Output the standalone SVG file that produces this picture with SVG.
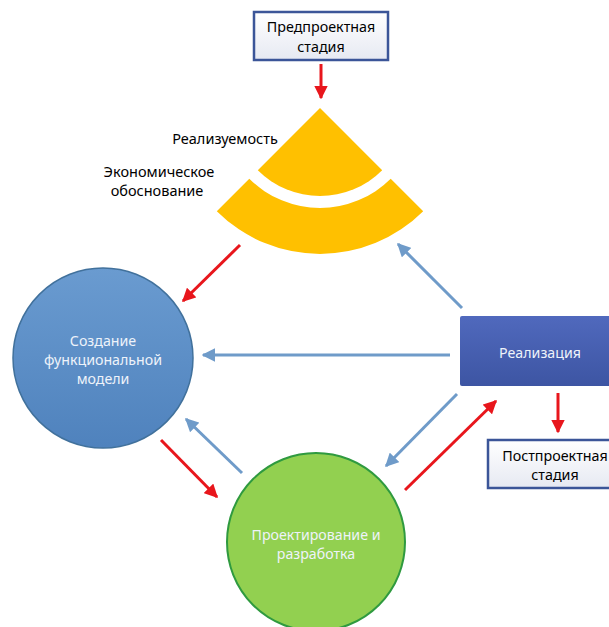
<svg xmlns="http://www.w3.org/2000/svg" width="609" height="627" viewBox="0 0 609 627">
<defs>
<style>
text{font-family:"Noto Sans","Open Sans",sans-serif;text-anchor:middle;dominant-baseline:central}
.lbl{font-size:14.3px;fill:#000}
.side{font-size:14.5px;fill:#000}
.box{fill:url(#gBox);stroke:#3b5598;stroke-width:2.5}
.wt{font-size:14.2px;fill:#eef3fa}
.red{stroke:#e8161c;stroke-width:3;fill:none;marker-end:url(#mRed)}
.blu{stroke:#6f9bc9;stroke-width:3;fill:none;marker-end:url(#mBlue)}
</style>
<linearGradient id="gBox" x1="0" y1="0" x2="0" y2="1"><stop offset="0" stop-color="#ffffff"/><stop offset="1" stop-color="#e6e9f2"/></linearGradient>
<linearGradient id="gBlue" x1="0" y1="0" x2="0" y2="1"><stop offset="0" stop-color="#6a9bd0"/><stop offset="1" stop-color="#4f82bd"/></linearGradient>
<linearGradient id="gReal" x1="0" y1="0" x2="0" y2="1"><stop offset="0" stop-color="#5069bd"/><stop offset="1" stop-color="#3d55a3"/></linearGradient>
<marker id="mRed" viewBox="0 0 10 10" refX="9" refY="5" markerWidth="4.5" markerHeight="4.5" orient="auto" markerUnits="strokeWidth"><path d="M0,0 L10,5 L0,10 Z" fill="#e8161c"/></marker>
<marker id="mBlue" viewBox="0 0 10 10" refX="9" refY="5" markerWidth="4.5" markerHeight="4.5" orient="auto" markerUnits="strokeWidth"><path d="M0,0 L10,5 L0,10 Z" fill="#6f9bc9"/></marker>
</defs>
<rect width="609" height="627" fill="#ffffff"/>
<g id="connectors">
<line class="red" x1="321" y1="64" x2="321" y2="98"/>
<line class="red" x1="240" y1="245" x2="183" y2="301"/>
<line class="blu" x1="462" y1="308" x2="398" y2="244"/>
<line class="blu" x1="450" y1="355" x2="203" y2="355"/>
<line class="blu" x1="457" y1="394" x2="386" y2="466"/>
<line class="blu" x1="242" y1="473" x2="186" y2="419"/>
<line class="red" x1="161" y1="440" x2="217" y2="497"/>
<line class="red" x1="405" y1="490" x2="496" y2="401"/>
<line class="red" x1="558" y1="393" x2="558" y2="432"/>
</g>
<g id="pre">
<rect class="box" x="254" y="12" width="134" height="48"/>
<text class="lbl" x="321" y="26">Предпроектная</text>
<text class="lbl" x="321" y="46">стадия</text>
</g>
<g id="fan">
<path d="M320,108 L257.8,170.2 A88,88 0 0 0 382.2,170.2 Z" fill="#ffc000"/>
<path d="M249.3,178.7 L216.8,211.2 A146,146 0 0 0 423.2,211.2 L390.7,178.7 A100,100 0 0 1 249.3,178.7 Z" fill="#ffc000"/>
<text class="side" x="225" y="138">Реализуемость</text>
<text class="side" x="159" y="171">Экономическое</text>
<text class="side" x="157" y="190">обоснование</text>
</g>
<g id="model">
<circle cx="103" cy="358" r="90" fill="url(#gBlue)" stroke="#41719c" stroke-width="1.5"/>
<text class="wt" x="103" y="340">Создание</text>
<text class="wt" x="103" y="359">функциональной</text>
<text class="wt" x="103" y="378">модели</text>
</g>
<g id="design">
<circle cx="316" cy="542" r="89" fill="#92d050" stroke="#2f9a3f" stroke-width="2"/>
<text class="wt" x="316" y="534">Проектирование и</text>
<text class="wt" x="316" y="553">разработка</text>
</g>
<g id="real">
<rect x="460" y="316" width="160" height="70" rx="2" fill="url(#gReal)"/>
<text class="wt" x="540" y="352" fill="#ffffff">Реализация</text>
</g>
<g id="post">
<rect class="box" x="488" y="440" width="134" height="48"/>
<text class="lbl" x="555" y="455">Постпроектная</text>
<text class="lbl" x="555" y="474">стадия</text>
</g>
</svg>
